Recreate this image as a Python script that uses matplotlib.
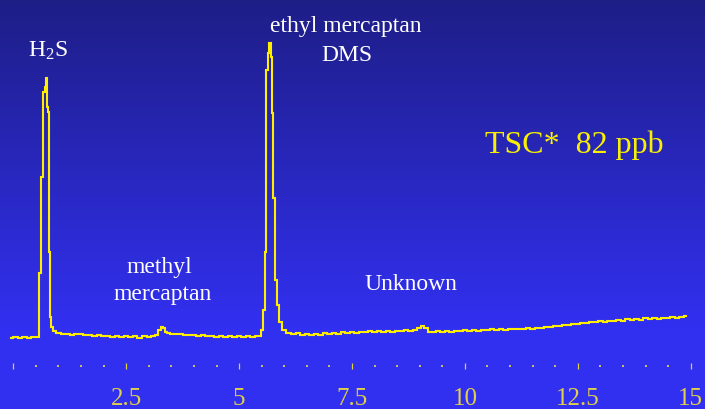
import numpy as np
import matplotlib
matplotlib.use("Agg")
import matplotlib.pyplot as plt

# ---------------- data ----------------
time_min = [
    -0.05, 0.05, 0.15, 0.25, 0.35, 0.45, 0.55,
    0.57, 0.59, 0.64, 0.68, 0.71, 0.74, 0.76, 0.78, 0.80, 0.82, 0.86, 0.90, 0.97,
    1.0, 1.1, 1.2, 1.3, 1.4, 1.5, 1.6, 1.7, 1.8, 1.9, 2.0, 2.1, 2.2, 2.3, 2.4, 2.5,
    2.6, 2.7, 2.8, 2.9, 3.0, 3.1,
    3.18, 3.24, 3.29, 3.34, 3.38, 3.43,
    3.5, 3.6, 3.7, 3.8, 3.9, 4.0, 4.1, 4.2, 4.3, 4.4, 4.5, 4.6, 4.7, 4.8, 4.9, 5.0,
    5.1, 5.2, 5.3, 5.4, 5.46,
    5.50, 5.54, 5.59, 5.61, 5.65, 5.68, 5.72, 5.74, 5.78, 5.82, 5.87, 5.91, 5.97,
    6.1, 6.2, 6.3, 6.4, 6.5, 6.6, 6.7, 6.8, 6.9, 7.0, 7.1, 7.2, 7.3, 7.4, 7.5, 7.6,
    7.7, 7.8, 7.9, 8.0, 8.1, 8.2, 8.3, 8.4, 8.5, 8.6, 8.7, 8.8, 8.9,
    9.0, 9.07, 9.14, 9.23,
    9.3, 9.4, 9.5, 9.6, 9.7, 9.8, 9.9, 10.0, 10.1, 10.2, 10.3, 10.4, 10.5, 10.6,
    10.7, 10.8, 10.9, 11.0, 11.1, 11.2, 11.3, 11.4, 11.5, 11.6, 11.7, 11.8, 11.9,
    12.0, 12.1, 12.2, 12.3, 12.4, 12.5, 12.6, 12.7, 12.8, 12.9, 13.0, 13.1, 13.2,
    13.3, 13.4, 13.5, 13.6, 13.7, 13.8, 13.9, 14.0, 14.1, 14.2, 14.3, 14.4, 14.5,
    14.6, 14.7, 14.8, 14.89,
]
signal = [
    -1, 0, -0.5, 0.5, -1, 0, 0.5,
    5, 64, 160, 245, 250, 259, 230, 225, 85, 20, 10, 6, 4,
    4, 3, 3.5, 2.5, 3.5, 3, 2, 2.5, 1.5, 2.5, 1, 1.5, 0.5, 1.5, 0, 1,
    0, 1, -0.5, 1, 0.5, 1.5,
    2, 7, 10, 9, 5, 4,
    3.5, 3, 3.5, 2.5, 2, 2.5, 1.5, 2, 1, 1.5, 0.5, 1.5, 0.5, 1, 0, 1.5,
    0.5, 1, 0, 1, 1,
    7, 27, 85, 267, 284, 294, 280, 224, 139, 57, 32, 15, 7,
    4, 3, 4, 2.5, 3.5, 2, 3.5, 2.5, 4, 3, 4.5, 3.5, 5, 4, 5.5, 4.5,
    5.5, 5, 6, 5, 6, 5.5, 6.5, 5.5, 6.5, 6, 7, 6.5, 7,
    9, 11, 9.5, 5.5,
    5, 6, 5, 6, 5.5, 6.5, 6, 7, 6.5, 7.5, 6.5, 7.5, 7, 8,
    7, 8, 7.5, 8.5, 8, 8.5, 8, 9, 8.5, 9.5, 9, 10.5, 10,
    11.5, 11, 12.5, 12, 13.5, 13, 14.5, 14, 15.5, 15, 16, 15, 16.5,
    16, 17, 16.5, 18, 17.5, 18, 17.5, 19, 18.5, 19.5, 18.5, 19.5, 19,
    20, 19.5, 20.5, 21,
]
major_ticks = [0, 2.5, 5, 7.5, 10, 12.5, 15]
tick_labels = ["", "2.5", "5", "7.5", "10", "12.5", "15"]
minor_ticks = [0.5 * i for i in range(31)]

peak_labels = [
    ("H$_\\mathregular{2}$S", 48, 57),
    ("ethyl mercaptan", 346, 32),
    ("DMS", 347, 61),
    ("methyl", 159, 273),
    ("mercaptan", 162.5, 300),
    ("Unknown", 411, 290),
]
tsc_text = "TSC*  82 ppb"

# ---------------- figure ----------------
W, H = 705, 409
plt.rcParams["font.family"] = ["Liberation Serif", "DejaVu Serif"]
plt.rcParams["mathtext.fontset"] = "custom"
plt.rcParams["mathtext.rm"] = "Liberation Serif"
plt.rcParams["mathtext.it"] = "Liberation Serif:italic"

fig = plt.figure(figsize=(W / 100, H / 100), dpi=100)

# gradient background
bg = fig.add_axes([0, 0, 1, 1], zorder=0)
ys = np.linspace(0, 1, 409)
top = np.array([30, 30, 135]) / 255.0
bot = np.array([50, 48, 240]) / 255.0
frac = np.clip(ys / 0.80, 0, 1)[:, None]
grad = top + (bot - top) * frac
bg.imshow(grad[:, None, :].repeat(2, axis=1), aspect="auto",
          extent=[0, 1, 0, 1], origin="upper")
bg.set_axis_off()

# main axes: bottom edge at tick row (pixel y = 366)
x0_px, px_per_min = 13.3, 45.16
base_px = 337.0
ax_bottom_px = 366.0
ax = fig.add_axes([0, (H - ax_bottom_px) / H, 1, ax_bottom_px / H], zorder=1)
ax.patch.set_alpha(0)
ax.set_xlim(-x0_px / px_per_min, (W - x0_px) / px_per_min)
ax.set_ylim(base_px - ax_bottom_px, base_px)

ax.plot(time_min, signal, color="#ffee00", lw=1.5, drawstyle="steps-mid",
        solid_joinstyle="miter")

for s in ax.spines.values():
    s.set_visible(False)
ax.set_yticks([])
ax.set_xticks(major_ticks)
ax.set_xticklabels(tick_labels)
ax.set_xticks(minor_ticks, minor=True)
tick_col = "#e0cf48"
ax.tick_params(axis="x", which="major", direction="inout", length=4.3, width=0.9,
               color=tick_col, labelcolor=tick_col, labelsize=18, pad=14)
ax.tick_params(axis="x", which="minor", direction="inout", length=2.0, width=1.3,
               color=tick_col)

for txt, xp, yp in peak_labels:
    fig.text(xp / W, 1 - yp / H, txt, color="white", fontsize=17,
             ha="center", va="baseline", zorder=3)

fig.text(485 / W, 1 - 153 / H, tsc_text, color="#f8f000", fontsize=23,
         ha="left", va="baseline", zorder=3)

fig.savefig("out.png", dpi=100)
